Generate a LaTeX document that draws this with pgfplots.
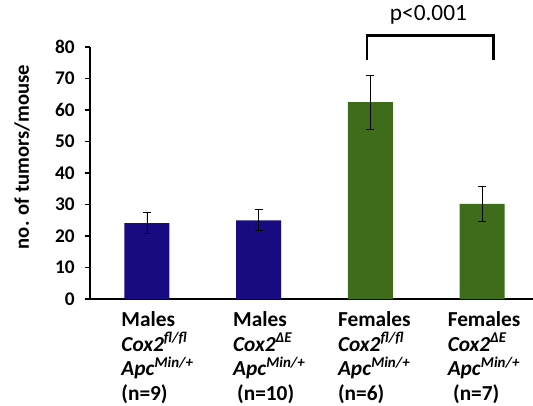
\documentclass[border=0pt]{standalone}
\usepackage{fontspec}
\setmainfont{Carlito}
\usepackage{pgfplots}
\pgfplotsset{compat=1.18}
\definecolor{barblue}{RGB}{24,10,128}
\definecolor{bargreen}{RGB}{62,108,26}
\begin{document}
\begin{tikzpicture}
\begin{axis}[
 scale only axis, width=332.25pt, height=189pt,
 xmin=-0.51, xmax=3.456, ymin=0, ymax=80,
 axis x line*=bottom, axis y line*=left,
 axis line style={line width=1.5pt},
 ytick={0,10,...,80}, xtick={0,1,2,3},
 xticklabels={
  {Males\\\textit{Cox2}\textsuperscript{\textit{fl/fl}}\\\textit{Apc}\textsuperscript{\textit{Min/+}}\\(n=9)},
  {Males\\\textit{Cox2}\textsuperscript{\textit{ΔE}}\\\textit{Apc}\textsuperscript{\textit{Min/+}}\\\hspace{3pt}(n=10)},
  {Females\\\textit{Cox2}\textsuperscript{\textit{fl/fl}}\\\textit{Apc}\textsuperscript{\textit{Min/+}}\\(n=6)},
  {Females\\\textit{Cox2}\textsuperscript{\textit{ΔE}}\\\textit{Apc}\textsuperscript{\textit{Min/+}}\\\hspace{4pt}(n=7)}},
 x tick label style={align=left, font=\bfseries\fontsize{16}{18.4}\selectfont, anchor=north, yshift=-2pt,
   xshift={3pt+(\ticknum<2)*5pt-(\ticknum==3)*1.5pt}},
 y tick label style={font=\bfseries\fontsize{14.5}{16}\selectfont, xshift=-4pt},
 /pgf/number format/assume math mode=true,
 xtick style={draw=none}, ytick style={line width=1pt, black},
 tick align=outside, major tick length=4pt,
 ylabel={no. of tumors/mouse},
 ylabel style={font=\bfseries\fontsize{15.5}{17}\selectfont, at={(axis description cs:0,0.5)}, anchor=center, yshift=51pt, xshift=12pt},
 clip=false, ybar, bar width=0.403,
]
\addplot[fill=barblue, draw=none, bar shift=0pt,
 error bars/.cd, y dir=both, y explicit,
 error bar style={black, line width=0.6pt},
 error mark options={rotate=90, mark size=3pt, black, line width=0.6pt}]
 coordinates {(0,24.1) +- (0,3.4) (1,25.0) +- (0,3.3)};
\addplot[fill=bargreen, draw=none, bar shift=0pt,
 error bars/.cd, y dir=both, y explicit,
 error bar style={black, line width=0.6pt},
 error mark options={rotate=90, mark size=3pt, black, line width=0.6pt}]
 coordinates {(2,62.5) +- (0,8.5) (3,30.2) +- (0,5.7)};
\draw[line width=2.2pt] (axis cs:1.97,75.9) -- (axis cs:1.97,83.8) -- (axis cs:3.1,83.8) -- (axis cs:3.1,75.9);
\node[font=\fontsize{17.5}{19}\selectfont] at (axis cs:2.52,90.3) {p<0.001};
\end{axis}
\pgfresetboundingbox
\useasboundingbox (-67.5pt,-79.5pt) rectangle (332.25pt,224.25pt);
\end{tikzpicture}
\end{document}
